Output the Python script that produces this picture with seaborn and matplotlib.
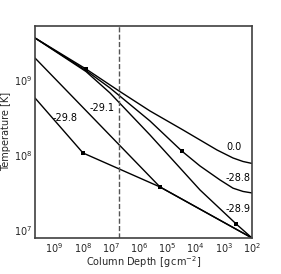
import numpy as np
import pandas as pd
import matplotlib
matplotlib.use("Agg")
import matplotlib.pyplot as plt
import seaborn as sns
from matplotlib.ticker import NullLocator

# ---- data (log10 values) ----
labels = ["0.0", "-28.8", "-28.9", "-29.1", "-29.8"]

logx_00 = [9.695, 7.887, 6.716, 5.617, 4.447, 3.844, 3.241, 2.674, 2.319, 2.0]
logy_00 = [9.569, 9.154, 8.860, 8.592, 8.338, 8.204, 8.070, 7.963, 7.916, 7.890]

logx_288 = [9.695, 7.887, 7.035, 5.617, 4.493, 3.844, 3.135, 2.674, 2.319, 2.0]
logy_288 = [9.569, 9.134, 8.900, 8.458, 8.057, 7.856, 7.669, 7.559, 7.515, 7.495]

logx_289 = [9.695, 7.887, 7.035, 5.617, 3.844, 2.550, 2.0]
logy_289 = [9.569, 9.120, 8.833, 8.271, 7.535, 7.076, 6.892]

logx_291 = [9.695, 5.262, 2.0]
logy_291 = [9.301, 7.575, 6.892]

logx_298 = [9.695, 7.993, 5.262, 2.0]
logy_298 = [8.766, 8.030, 7.575, 6.892]

marker_logx = [7.887, 4.493, 2.550, 5.262, 7.993]
marker_logy = [9.154, 8.057, 7.076, 7.575, 8.030]

# label anchor positions (log10)
label_logx = [2.64, 2.49, 2.49, 7.32, 8.63]
label_logy = [8.108, 7.692, 7.281, 8.632, 8.498]

xtick_values = [1e9, 1e8, 1e7, 1e6, 1e5, 1e4, 1e3, 1e2]
dashed_x = 5e6

series = [(logx_00, logy_00), (logx_288, logy_288), (logx_289, logy_289),
          (logx_291, logy_291), (logx_298, logy_298)]

frames = []
for lab, (lx, ly) in zip(labels, series):
    frames.append(pd.DataFrame({"x": 10 ** np.array(lx), "y": 10 ** np.array(ly), "label": lab}))
df = pd.concat(frames, ignore_index=True)
mk = pd.DataFrame({"x": 10 ** np.array(marker_logx), "y": 10 ** np.array(marker_logy)})

sns.set_style("white")
plt.rcParams["font.family"] = ["DejaVu Sans"]
plt.rcParams["mathtext.fontset"] = "dejavusans"

fig = plt.figure(figsize=(2.81, 2.74), dpi=100)
ax = fig.add_axes([35 / 281, 1 - 238 / 274, (252 - 35) / 281, (238 - 25.5) / 274])

sns.lineplot(data=df, x="x", y="y", hue="label", units="label", estimator=None, sort=False,
             palette=["black"] * len(labels), linewidth=1.0, legend=False, ax=ax)
sns.scatterplot(data=mk, x="x", y="y", marker="s", color="black", s=8, linewidth=0, ax=ax, zorder=5)

ax.axvline(dashed_x, color="#555555", linestyle="--", linewidth=1.0)

ax.set_xscale("log")
ax.set_yscale("log")
ax.set_xticks(xtick_values)
ax.xaxis.set_minor_locator(NullLocator())
ax.set_xlim(10 ** 9.695, 1e2)
ax.set_ylim(10 ** 6.892, 10 ** 9.736)

for lab, lx, ly in zip(labels, label_logx, label_logy):
    ax.text(10 ** lx, 10 ** ly, lab, fontsize=7, ha="center", va="center", color="black")

ax.set_xlabel(r"Column Depth [$\mathrm{g\,cm^{-2}}$]", fontsize=7, labelpad=0)
ax.set_ylabel("Temperature [K]", fontsize=7, labelpad=2)

ax.tick_params(axis="both", which="both", direction="in", labelsize=7, color="#333333")
ax.tick_params(which="major", length=3.5, width=0.8, pad=2)
ax.tick_params(which="minor", length=2, width=0.6)
for sp in ax.spines.values():
    sp.set_color("#404040")
    sp.set_linewidth(1.2)

fig.savefig("out.png", dpi=100)
